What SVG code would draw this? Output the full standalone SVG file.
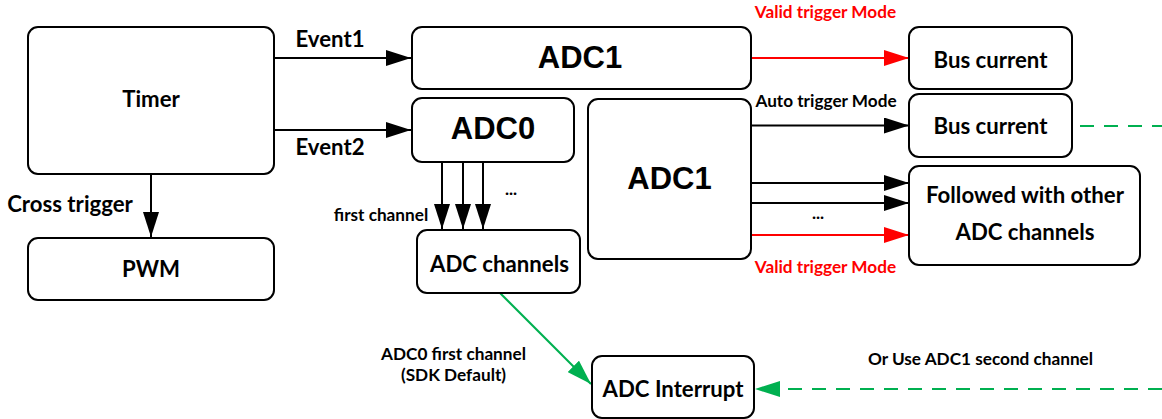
<svg xmlns="http://www.w3.org/2000/svg" width="1162" height="419" viewBox="0 0 1162 419">
  <defs>
    <style>
      .box { fill: #ffffff; stroke: #000000; stroke-width: 2; }
      .lbl { font-family: Lato, "Open Sans", "Liberation Sans", sans-serif; font-weight: bold; fill: #000000; text-anchor: middle; }
      .big { font-size: 22.2px; }
      .small { font-size: 17.2px; }
      .adc { font-family: "Liberation Sans", Arial, sans-serif; font-weight: bold; font-size: 31px; fill: #000000; text-anchor: middle; }
      .red { fill: #ff0000; }
      .wire { fill: none; stroke: #000000; stroke-width: 2; }
      .wire-red { fill: none; stroke: #ff0000; stroke-width: 2; }
      .wire-green { fill: none; stroke: #00b050; stroke-width: 2; }
      .dash { stroke-dasharray: 14 10; }
    </style>
    <marker id="ah" markerUnits="userSpaceOnUse" markerWidth="25" markerHeight="16" refX="25" refY="8" orient="auto">
      <path d="M0,0 L25,8 L0,16 Z" fill="#000000"/>
    </marker>
    <marker id="ah-red" markerUnits="userSpaceOnUse" markerWidth="25" markerHeight="16" refX="25" refY="8" orient="auto">
      <path d="M0,0 L25,8 L0,16 Z" fill="#ff0000"/>
    </marker>
    <marker id="ah-green" markerUnits="userSpaceOnUse" markerWidth="25" markerHeight="16" refX="25" refY="8" orient="auto">
      <path d="M0,0 L25,8 L0,16 Z" fill="#00b050"/>
    </marker>
  </defs>

  <!-- connectors -->
  <g id="connectors">
    <line class="wire" x1="274" y1="58" x2="411" y2="58" marker-end="url(#ah)"/>
    <line class="wire" x1="274" y1="130" x2="411" y2="130" marker-end="url(#ah)"/>
    <line class="wire" x1="151" y1="174" x2="151" y2="237" marker-end="url(#ah)"/>
    <line class="wire" x1="442" y1="162" x2="442" y2="229" marker-end="url(#ah)"/>
    <line class="wire" x1="463" y1="162" x2="463" y2="229" marker-end="url(#ah)"/>
    <line class="wire" x1="483" y1="162" x2="483" y2="229" marker-end="url(#ah)"/>
    <line class="wire-red" x1="751" y1="58" x2="909" y2="58" marker-end="url(#ah-red)"/>
    <line class="wire" x1="751" y1="125.5" x2="909" y2="125.5" marker-end="url(#ah)"/>
    <line class="wire" x1="751" y1="183" x2="909" y2="183" marker-end="url(#ah)"/>
    <line class="wire" x1="751" y1="203" x2="909" y2="203" marker-end="url(#ah)"/>
    <line class="wire-red" x1="751" y1="235" x2="909" y2="235" marker-end="url(#ah-red)"/>
    <line class="wire-green dash" x1="1080" y1="126" x2="1162" y2="126"/>
    <line class="wire-green" x1="500" y1="293" x2="591" y2="384" marker-end="url(#ah-green)"/>
    <line class="wire-green dash" x1="1162" y1="389" x2="755" y2="389" marker-end="url(#ah-green)"/>

    <text class="lbl big" x="330" y="47">Event1</text>
    <text class="lbl big" x="330" y="155">Event2</text>
    <text class="lbl big" x="70" y="212">Cross trigger</text>
    <text class="lbl small" x="511" y="195">...</text>
    <text class="lbl small" x="381" y="221">first channel</text>
    <text class="lbl small red" x="825.5" y="18">Valid trigger Mode</text>
    <text class="lbl small" x="826" y="107">Auto trigger Mode</text>
    <text class="lbl small" x="818" y="219">...</text>
    <text class="lbl small red" x="825.5" y="273">Valid trigger Mode</text>
    <text class="lbl small" x="453.5" y="360">ADC0 first channel</text>
    <text class="lbl small" x="453.5" y="381">(SDK Default)</text>
    <text class="lbl small" x="980.5" y="365">Or Use ADC1 second channel</text>
  </g>

  <g id="timer">
    <rect class="box" x="28" y="27" width="246" height="147" rx="10"/>
    <text class="lbl big" x="151" y="107">Timer</text>
  </g>
  <g id="pwm">
    <rect class="box" x="28" y="238" width="246" height="62" rx="10"/>
    <text class="lbl big" x="151" y="277">PWM</text>
  </g>
  <g id="adc1-top">
    <rect class="box" x="412" y="27" width="339" height="62" rx="10"/>
    <text class="adc" x="580" y="68">ADC1</text>
  </g>
  <g id="adc0">
    <rect class="box" x="412" y="98" width="162" height="64" rx="10"/>
    <text class="adc" x="493" y="139">ADC0</text>
  </g>
  <g id="adc1-main">
    <rect class="box" x="588" y="99" width="163" height="160" rx="10"/>
    <text class="adc" x="669.5" y="189">ADC1</text>
  </g>
  <g id="adc-channels">
    <rect class="box" x="417" y="230" width="163" height="63" rx="10"/>
    <text class="lbl big" x="499.5" y="272">ADC channels</text>
  </g>
  <g id="bus-current-1">
    <rect class="box" x="909" y="27" width="163" height="62" rx="10"/>
    <text class="lbl big" x="990.5" y="68">Bus current</text>
  </g>
  <g id="bus-current-2">
    <rect class="box" x="909" y="94" width="163" height="63" rx="10"/>
    <text class="lbl big" x="990.5" y="134">Bus current</text>
  </g>
  <g id="other-channels">
    <rect class="box" x="909" y="166" width="231" height="99" rx="10"/>
    <text class="lbl big" x="1025" y="203">Followed with other</text>
    <text class="lbl big" x="1025" y="240">ADC channels</text>
  </g>
  <g id="adc-interrupt">
    <rect class="box" x="592" y="356" width="162" height="62" rx="10"/>
    <text class="lbl big" x="673" y="397">ADC Interrupt</text>
  </g>
</svg>
